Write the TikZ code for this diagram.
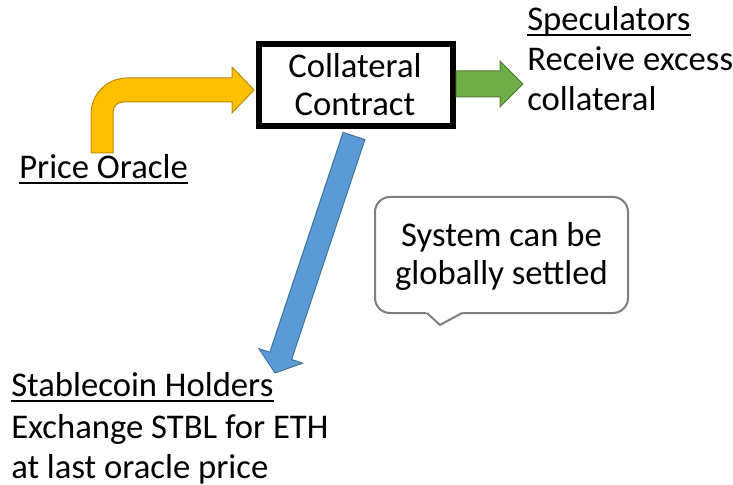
\documentclass[tikz,border=0pt]{standalone}
\usepackage{fontspec}
\setmainfont{Carlito}
\definecolor{orangefill}{HTML}{FFC000}
\definecolor{orangeline}{HTML}{BC8C00}
\definecolor{greenfill}{HTML}{70AD47}
\definecolor{greenline}{HTML}{507E32}
\definecolor{bluefill}{HTML}{5B9BD5}
\definecolor{blueline}{HTML}{41719C}
\definecolor{calloutline}{HTML}{7F7F7F}
\begin{document}
\begin{tikzpicture}[x=0.75pt,y=-0.75pt,
  txt/.style={inner sep=0pt, anchor=base west, font=\fontsize{26}{31}\selectfont},
  ctxt/.style={inner sep=0pt, anchor=base, font=\fontsize{26}{31}\selectfont},
  uline/.style={line width=1.5pt},
  blockarrow/.style={line width=0.75pt, line join=miter}]
\useasboundingbox (0,0) rectangle (733,485);

% collateral contract box
\node (cc) [draw=black, line width=4.5pt, minimum width=145.5pt, minimum height=61.9pt, inner sep=0pt] at (355.5,85) {};
\node (cc1) [ctxt] at (355,78) {Collateral};
\node (cc2) [ctxt] at (355,116) {Contract};

% orange bent arrow
\draw[blockarrow, fill=orangefill, draw=orangeline]
  (91,153) -- (91,114) arc[start angle=180, end angle=90, x radius=36, y radius=-36]
  -- (232,78) -- (232,67) -- (254,90) -- (232,113) -- (232,102) -- (123,102)
  arc[start angle=90, end angle=180, x radius=10, y radius=-10] -- (113,153) -- cycle;

% green arrow
\draw[blockarrow, fill=greenfill, draw=greenline]
  (456,71) -- (500,71) -- (500,61) -- (523,84) -- (500,107) -- (500,97) -- (456,97) -- cycle;

% blue arrow
\draw[blockarrow, fill=bluefill, draw=blueline]
  (364.9,139.6) -- (291.6,359.5) -- (302.5,363.2) -- (275,373) -- (258.9,348.6)
  -- (269.8,352.3) -- (343.1,132.4) -- cycle;

% callout
\draw[line width=1.5pt, draw=calloutline, fill=white, rounded corners=11.25pt]
  (375,197) rectangle (628,313);
\fill[white] (425,311.2) -- (440,325) -- (464,311.2) -- cycle;
\draw[line width=1.5pt, draw=calloutline, line join=miter]
  (427,313) -- (440,325) -- (462,313);
\node (c1) [ctxt] at (501.5,247) {System can be};
\node (c2) [ctxt] at (501.5,284) {globally settled};

% speculators
\node (sp) [txt] at (527,31) {Speculators};
\draw[uline] ([yshift=-4.5*0.75pt]sp.base west) -- ([yshift=-4.5*0.75pt]sp.base east);
\node (sp2) [txt] at (527,71) {Receive excess};
\node (sp3) [txt] at (527,111) {collateral};

% price oracle
\node (po) [txt] at (19,179) {Price Oracle};
\draw[uline] ([yshift=-4.5*0.75pt]po.base west) -- ([yshift=-4.5*0.75pt]po.base east);

% stablecoin holders
\node (sh) [txt] at (11,396) {Stablecoin Holders};
\draw[uline] ([yshift=-4.5*0.75pt]sh.base west) -- ([yshift=-4.5*0.75pt]sh.base east);
\node (sh2) [txt] at (11,438) {Exchange STBL for ETH};
\node (sh3) [txt] at (11,478) {at last oracle price};
\end{tikzpicture}
\end{document}
